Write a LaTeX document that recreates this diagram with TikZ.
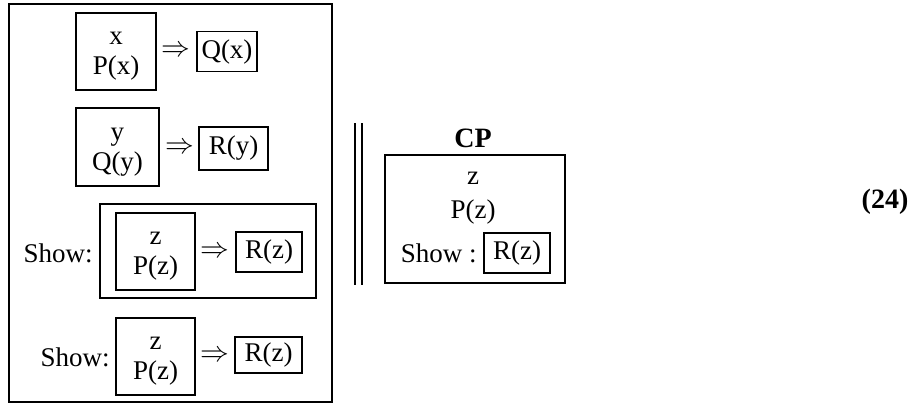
\documentclass[tikz,border=0pt]{standalone}
\usepackage{fontspec}
\setmainfont{Liberation Serif}
\usetikzlibrary{positioning}

% variable over its assumption, set a little low in the box
\newcommand{\hypbody}[2]{\rule{0pt}{11pt}#1\\#2}

\begin{document}
\begin{tikzpicture}[
  x=0.5pt, y=-0.5pt,
  every node/.style={font=\fontsize{13.5}{15}\selectfont, inner sep=0pt},
  frame/.style={draw, line width=0.9pt},
  hyp/.style={frame, align=center, minimum width=39.5pt, minimum height=38.5pt},
  goal/.style={frame, minimum width=33pt, minimum height=20pt},
  imp/.style={font=\fontsize{14}{14}\selectfont},
  tag/.style={anchor=east}
]
  \useasboundingbox (0,0) rectangle (915,404);

  % outer proof box
  \draw[line width=1pt] (9,4) rectangle (332,402);

  % first premise
  \node[hyp, minimum width=40pt] (px) at (116,51.5) {\hypbody{x}{P(x)}};
  \node[imp] (imp1) at (176,51.5) {$\Rightarrow$};
  \node[goal, minimum width=30pt] (qx) at (227,51.5) {Q(x)};

  % second premise
  \node[hyp, minimum width=41.5pt, minimum height=39pt] (qy) at (117.5,147) {\hypbody{y}{Q(y)}};
  \node[imp] (imp2) at (180,148) {$\Rightarrow$};
  \node[goal, minimum width=34.5pt, minimum height=21.5pt] (ry) at (233.5,148.5) {R(y)};

  % goal to show, boxed
  \node[frame, minimum width=108pt, minimum height=47pt] (showbox) at (208,251) {};
  \node[hyp] (pza) at (155.5,251.5) {\hypbody{z}{P(z)}};
  \node[imp] (imp3) at (215,252) {$\Rightarrow$};
  \node[goal] (rza) at (269,252) {R(z)};
  \node[tag] (showa) at (93,253) {Show:};

  % goal to show
  \node[hyp] (pzb) at (155.5,356.5) {\hypbody{z}{P(z)}};
  \node[imp] (imp4) at (215,356) {$\Rightarrow$};
  \node[goal, minimum width=33.5pt, minimum height=18pt] (rzb) at (268.5,355) {R(z)};
  \node[tag] (showb) at (110,357) {Show:};

  % double bar
  \draw[line width=0.8pt] (355,123) -- (355,285);
  \draw[line width=0.8pt] (362,123) -- (362,285);

  % CP rule
  \node[font=\fontsize{14}{15}\selectfont\bfseries] (cp) at (473,138) {CP};
  \node[frame, minimum width=90pt, minimum height=64pt] (cpbox) at (475,219) {};
  \node (cpz) at (473,178) {z};
  \node (cppz) at (473,212) {P(z)};
  \node[goal] (cprz) at (517,253) {R(z)};
  \node[left=3pt of cprz] (cpshow) {Show :};

  \node[font=\fontsize{14}{15}\selectfont\bfseries] (num) at (885,202) {(24)};
\end{tikzpicture}
\end{document}
